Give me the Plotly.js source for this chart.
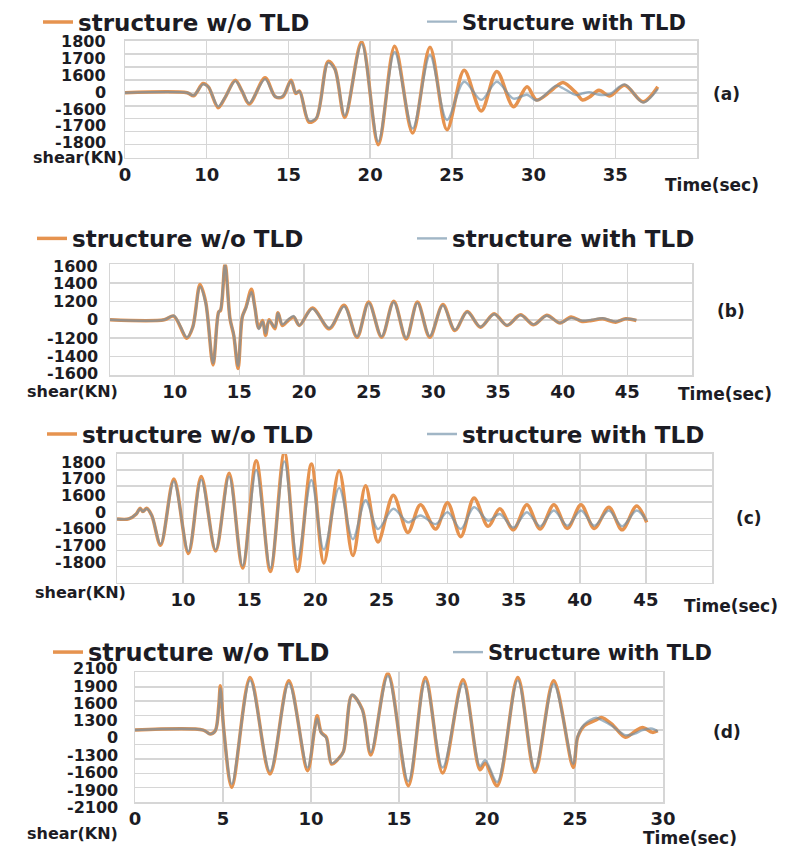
<!DOCTYPE html>
<html>
<head>
<meta charset="utf-8">
<script src="https://cdn.plot.ly/plotly-3.0.1.min.js"></script>
<style>html,body{margin:0;padding:0;background:#fff}#chart{width:793px;height:853px}</style>
</head>
<body>
<div id="chart"></div>
<script>
// ---- Panel (a): time (s) and shear level (axis units; 0 = zero line) ----
const aTime    = [5.0, 8.8, 9.2, 9.77, 10.1, 10.7, 11.1, 11.75, 12.16, 12.6, 13.57, 14.2, 14.66, 15.16, 15.45, 15.68, 16.25, 16.7, 17.43, 17.84, 18.45, 19.48, 20.5, 21.5, 22.6, 23.66, 24.7, 25.75, 26.8, 27.75, 28.77, 29.6, 30.2, 31.4, 31.8, 32.6, 33.0, 33.4, 34.0, 34.66, 35.57, 36.7, 37.6];
const aWithout = [0, 0, -0.23, 0.71, 0.46, -1.15, -0.43, 0.97, 0.13, -0.87, 1.15, -0.3, -0.3, 0.97, -0.05, 0.13, -2.26, -2.0, 2.42, 1.86, -1.9, 3.94, -4.0, 3.59, -3.1, 3.51, -2.85, 1.73, -1.4, 1.65, -1.07, 0.46, -0.56, 0.5, 0.79, 0.0, -0.56, -0.35, 0.2, -0.25, 0.58, -0.69, 0.46];
const aWith    = [0, 0, -0.2, 0.65, 0.45, -1.05, -0.4, 0.9, 0.15, -0.8, 1.05, -0.3, -0.25, 0.9, 0, 0.1, -2.15, -1.95, 2.3, 1.8, -1.75, 3.75, -3.75, 3.15, -2.75, 2.9, -2.1, 0.85, -0.55, 0.85, -0.45, -0.15, -0.6, 0.55, 0.35, -0.18, -0.05, 0.05, -0.15, -0.1, 0.65, -0.75, 0.3];
const aXTickVals = [5, 10, 15, 20, 25, 30, 35];
const aXTickText = ['0', '10', '15', '20', '25', '30', '35'];
const aYTickText = ['1800', '1700', '1600', '0', '-1600', '-1700', '-1800'];

// ---- Panel (b) ----
const bTime    = [5, 9.2, 9.93, 10.94, 11.4, 11.96, 12.4, 12.97, 13.4, 13.55, 13.9, 14.28, 14.57, 14.9, 15.23, 15.52, 15.93, 16.2, 16.5, 16.8, 17.03, 17.3, 17.75, 17.99, 18.33, 18.77, 19.2, 19.64, 20.65, 21.96, 23.1, 24.1, 25.0, 26.0, 26.94, 27.9, 28.77, 29.72, 30.74, 31.67, 32.62, 33.64, 34.7, 35.7, 36.74, 37.75, 38.77, 39.8, 40.65, 41.5, 42.25, 43.1, 44.1, 44.86, 45.7];
const bWithout = [0, 0, 0.2, -1.0, -0.4, 1.91, 0.96, -2.45, 0.42, 0.51, 3.05, 0.05, -0.85, -2.64, 0.15, 0.69, 1.65, 0.69, -0.45, -0.04, -0.85, 0, -0.49, 0.38, -0.31, -0.04, 0.15, -0.31, 0.64, -0.49, 0.78, -0.95, 0.96, -0.95, 1.0, -1.04, 0.96, -0.95, 0.82, -0.58, 0.45, -0.4, 0.33, -0.31, 0.27, -0.27, 0.24, -0.18, 0.15, -0.09, -0.04, 0.05, -0.13, 0.05, -0.04];
const bWith    = [0, 0, 0.22, -0.95, -0.4, 1.8, 0.9, -2.35, 0.4, 0.55, 2.95, 0.05, -0.8, -2.5, 0.15, 0.65, 1.5, 0.65, -0.5, -0.1, -0.75, -0.05, -0.4, 0.35, -0.25, 0, 0.2, -0.3, 0.6, -0.45, 0.72, -0.9, 0.9, -0.9, 0.95, -0.98, 0.9, -0.88, 0.78, -0.55, 0.42, -0.38, 0.3, -0.3, 0.25, -0.25, 0.22, -0.17, 0.1, -0.05, 0, 0.08, -0.1, 0.05, -0.02];
const bXTickVals = [10, 15, 20, 25, 30, 35, 40, 45];
const bXTickText = ['10', '15', '20', '25', '30', '35', '40', '45'];
const bYTickText = ['1600', '1400', '1200', '0', '-1200', '-1400', '-1600'];

// ---- Panel (c) ----
const cTime    = [5, 5.88, 6.46, 6.75, 6.96, 7.25, 7.63, 8.3, 9.3, 10.4, 11.37, 12.46, 13.48, 14.5, 15.53, 16.6, 17.66, 18.65, 19.7, 20.64, 21.8, 22.84, 23.8, 24.74, 25.9, 27.0, 27.95, 29.1, 30.0, 31.0, 32.0, 33.07, 33.95, 34.97, 36.0, 37.0, 38.04, 39.06, 40.09, 41.1, 42.2, 43.2, 44.3, 45.06];
const cWithout = [-0.04, -0.04, 0.27, 0.63, 0.42, 0.63, 0.17, -1.68, 2.44, -2.19, 2.59, -2.04, 2.8, -3.09, 3.58, -3.3, 4.1, -3.3, 3.37, -2.78, 2.95, -2.32, 2.02, -1.47, 1.43, -0.88, 0.84, -0.67, 0.97, -1.14, 1.26, -0.5, 0.59, -0.72, 0.84, -0.67, 0.84, -0.63, 0.84, -0.63, 0.69, -0.72, 0.76, -0.25];
const cWith    = [-0.04, -0.04, 0.27, 0.6, 0.42, 0.6, 0.17, -1.6, 2.3, -2.05, 2.4, -1.95, 2.6, -2.95, 3.0, -3.09, 3.54, -2.57, 2.38, -1.94, 1.89, -1.3, 1.12, -0.67, 0.59, -0.25, 0.17, -0.36, 0.38, -0.67, 0.69, -0.15, 0.27, -0.57, 0.38, -0.5, 0.48, -0.46, 0.48, -0.46, 0.48, -0.5, 0.48, -0.15];
const cXTickVals = [10, 15, 20, 25, 30, 35, 40, 45];
const cXTickText = ['10', '15', '20', '25', '30', '35', '40', '45'];
const cYTickText = ['1800', '1700', '1600', '0', '-1600', '-1700', '-1800'];

// ---- Panel (d) ----
const dTime    = [0, 3.88, 4.27, 4.56, 4.76, 4.85, 5.05, 5.5, 6.54, 7.67, 8.74, 9.8, 10.2, 10.35, 10.58, 10.87, 11.17, 11.55, 11.84, 12.33, 12.91, 13.4, 14.37, 15.53, 16.5, 17.48, 18.64, 19.6, 19.9, 20.58, 21.75, 22.72, 23.79, 24.9, 25.15, 25.53, 26.2, 26.5, 27.09, 27.86, 28.4, 28.83, 29.4, 29.7];
const dWithout = [0, 0, -0.28, -0.05, 1.69, 3.07, -0.05, -3.97, 3.65, -3.05, 3.42, -2.82, 0.05, 0.99, -0.16, -0.5, -2.36, -2.0, -1.5, 2.42, 1.45, -1.73, 3.95, -3.86, 3.65, -2.98, 3.49, -2.75, -2.3, -3.86, 3.65, -2.93, 3.42, -2.59, -0.5, 0.3, 0.7, 0.88, 0.42, -0.5, -0.1, 0.18, -0.16, -0.05];
const dWith    = [0, 0, -0.28, -0.05, 1.6, 2.9, -0.05, -3.75, 3.45, -2.85, 3.25, -2.6, 0.0, 0.8, -0.2, -0.55, -2.3, -2.0, -1.5, 2.45, 1.4, -1.55, 3.75, -3.55, 3.4, -2.6, 3.25, -2.5, -2.1, -3.6, 3.45, -2.7, 3.2, -2.35, -0.45, 0.4, 0.85, 0.7, 0.3, -0.35, -0.25, 0.0, 0.1, -0.1];
const dXTickVals = [0, 5, 10, 15, 20, 25, 30];
const dXTickText = ['0', '5', '10', '15', '20', '25', '30'];
const dYTickText = ['2100', '1900', '1600', '1300', '0', '-1300', '-1600', '-1900', '-2100'];

// ---- styling / layout ----
const W = 793, H = 853;
const FONT = 'DejaVu Sans';
const TXT = '#1c1c24';
const ORANGE = '#e6934f';
const BLUE = '#6f8fa8';
const GRID = '#d6d6d6';
const px = v => v / W;
const py = v => 1 - v / H;

const panels = [
  {t: aTime, w: aWithout, m: aWith, xv: aXTickVals, xt: aXTickText, yt: aYTickText,
   yLabPx: [40, 57, 74, 91, 108, 124, 141],
   dom: [125, 697, 39, 156], xr: [5, 40], yr: [-5, 4], yLabRight: 108,
   names: ['structure w/o TLD', 'Structure with TLD'], legX: [78, 462], legY: 20, legSize: [23, 21],
   shear: [78, 156], time: [712, 183, 'Time(sec)'], tag: [726, 92, '(a)']},
  {t: bTime, w: bWithout, m: bWith, xv: bXTickVals, xt: bXTickText, yt: bYTickText,
   yLabPx: [265, 282, 300, 318, 337, 355, 372],
   dom: [110, 692, 263, 374], xr: [5, 50], yr: [-3, 3], yLabRight: 100,
   names: ['structure w/o TLD', 'structure with TLD'], legX: [72, 452], legY: 237, legSize: [23, 23],
   shear: [72, 390], time: [725, 393, 'Time(sec)'], tag: [731, 310, '(b)']},
  {t: cTime, w: cWithout, m: cWith, xv: cXTickVals, xt: cXTickText, yt: cYTickText,
   yLabPx: [462, 478, 495, 512, 528, 545, 562],
   dom: [117, 712, 453, 582], xr: [5, 50], yr: [-4, 4], yLabRight: 108,
   names: ['structure w/o TLD', 'structure with TLD'], legX: [82, 462], legY: 433, legSize: [23, 23],
   shear: [80, 592], time: [731, 605, 'Time(sec)'], tag: [749, 517, '(c)']},
  {t: dTime, w: dWithout, m: dWith, xv: dXTickVals, xt: dXTickText, yt: dYTickText,
   yLabPx: [668, 686, 703, 720, 737, 755, 772, 790, 807],
   dom: [135, 663, 672, 802], xr: [0, 30], yr: [-5, 4], yLabRight: 120,
   names: ['structure w/o TLD', 'Structure with TLD'], legX: [88, 488], legY: 652, legSize: [24, 21],
   shear: [72, 833], time: [690, 838, 'Time(sec)'], tag: [727, 732, '(d)']}
];

const data = [];
const layout = {
  width: W, height: H, margin: {l: 0, r: 0, t: 0, b: 0},
  paper_bgcolor: '#ffffff', plot_bgcolor: '#ffffff',
  showlegend: true, annotations: []
};
const bold = (size) => ({family: FONT, size: size, color: TXT, weight: 'bold'});

panels.forEach((p, i) => {
  const n = i + 1;
  const xa = n === 1 ? 'x' : 'x' + n;
  const ya = n === 1 ? 'y' : 'y' + n;
  const xk = n === 1 ? 'xaxis' : 'xaxis' + n;
  const yk = n === 1 ? 'yaxis' : 'yaxis' + n;
  const l1 = 'legend' + (i === 0 ? '' : (2 * i + 1));
  const l2 = 'legend' + (2 * i + 2);

  data.push({type: 'scatter', mode: 'lines', x: p.t, y: p.w, xaxis: xa, yaxis: ya, name: p.names[0],
    legend: l1, line: {color: ORANGE, width: 3.5, shape: 'spline', smoothing: 0.9}, hoverinfo: 'skip'});
  data.push({type: 'scatter', mode: 'lines', x: p.t, y: p.m, xaxis: xa, yaxis: ya, name: p.names[1],
    legend: l2, opacity: 0.65, line: {color: BLUE, width: 2.4, shape: 'spline', smoothing: 0.9}, hoverinfo: 'skip'});

  layout[xk] = {domain: [px(p.dom[0]), px(p.dom[1])], range: p.xr, anchor: ya,
    tickmode: 'array', tickvals: p.xv, ticktext: p.xt, ticks: '', showgrid: true, gridcolor: GRID, gridwidth: 1.5,
    showline: true, mirror: true, linecolor: GRID, linewidth: 1.5, zeroline: false, tickfont: bold(18), fixedrange: true};
  layout[yk] = {domain: [py(p.dom[3]), py(p.dom[2])], range: p.yr, anchor: xa,
    tick0: 0, dtick: 1, showticklabels: false, ticks: '', showgrid: true, gridcolor: GRID, gridwidth: 1.5,
    showline: true, mirror: true, linecolor: GRID, linewidth: 1.5, zeroline: false, fixedrange: true};

  layout[l1] = {x: px(p.legX[0] - 40), y: py(p.legY), xanchor: 'left', yanchor: 'middle',
    bgcolor: 'rgba(0,0,0,0)', font: bold(p.legSize[0])};
  layout[l2] = {x: px(p.legX[1] - 40), y: py(p.legY), xanchor: 'left', yanchor: 'middle',
    bgcolor: 'rgba(0,0,0,0)', font: bold(p.legSize[1])};

  p.yt.forEach((txt, k) => {
    layout.annotations.push({text: txt, xref: 'paper', yref: 'paper', x: px(p.yLabRight), y: py(p.yLabPx[k]),
      xanchor: 'right', yanchor: 'middle', showarrow: false, font: bold(16)});
  });
  layout.annotations.push({text: 'shear(KN)', xref: 'paper', yref: 'paper', x: px(p.shear[0]), y: py(p.shear[1]),
    xanchor: 'center', yanchor: 'middle', showarrow: false, font: bold(16)});
  layout.annotations.push({text: p.time[2], xref: 'paper', yref: 'paper', x: px(p.time[0]), y: py(p.time[1]),
    xanchor: 'center', yanchor: 'middle', showarrow: false, font: bold(17)});
  layout.annotations.push({text: p.tag[2], xref: 'paper', yref: 'paper', x: px(p.tag[0]), y: py(p.tag[1]),
    xanchor: 'center', yanchor: 'middle', showarrow: false, font: bold(17)});
});

Plotly.newPlot('chart', data, layout, {staticPlot: true, displayModeBar: false});
</script>
</body>
</html>
